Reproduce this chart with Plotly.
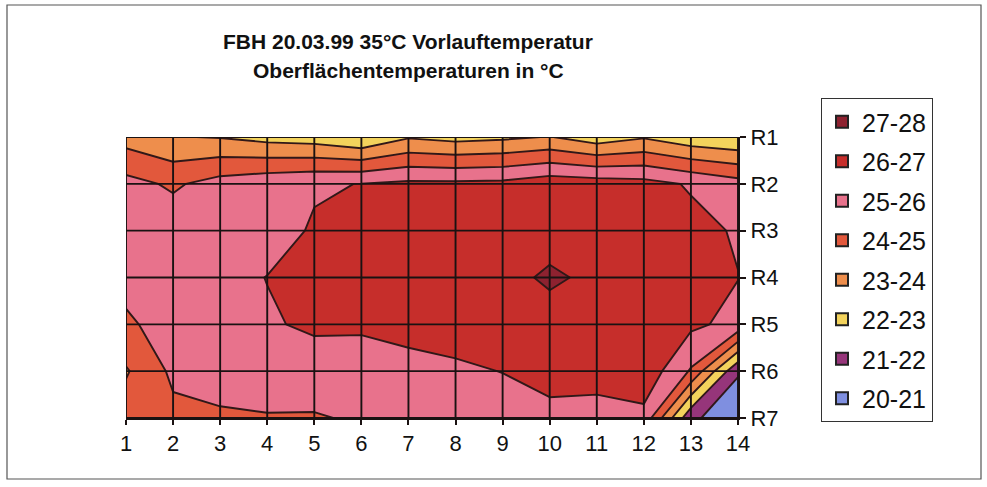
import plotly.graph_objects as go

# ---------------- data ----------------
cols = list(range(1, 15))
rows = ["R1", "R2", "R3", "R4", "R5", "R6", "R7"]

r1 = [23.58, 23.05, 22.95, 22.65, 22.5, 22.05, 22.9, 22.65, 22.8, 23.05, 22.42, 22.9, 22.3, 22.05]
r2 = [25.33, 24.85, 25.4, 25.7, 25.9, 26.02, 26.2, 26.2, 26.25, 26.6, 26.5, 26.35, 25.9, 25.4]
r3 = [25.5, 25.6, 25.65, 25.6, 26.1, 26.4, 26.5, 26.55, 26.6, 26.6, 26.6, 26.5, 26.3, 25.9]
r4 = [25.3, 25.5, 25.7, 26.02, 26.4, 26.55, 26.6, 26.65, 26.7, 27.15, 26.8, 26.6, 26.4, 26.02]
r5 = [24.85, 25.4, 25.6, 25.9, 26.15, 26.15, 26.3, 26.4, 26.5, 26.6, 26.6, 26.5, 26.2, 25.7]
r6 = [23.9, 25.2, 25.3, 25.4, 25.55, 25.5, 25.7, 25.85, 26.02, 26.5, 26.4, 26.7, 24.9, 21.1]
r7 = [24.5, 24.75, 24.9, 24.95, 24.92, 25.12, 25.3, 25.4, 25.55, 25.6, 25.6, 25.7, 21.2, 20.3]
z = [r1, r2, r3, r4, r5, r6, r7]

band_labels = ["20-21", "21-22", "22-23", "23-24", "24-25", "25-26", "26-27", "27-28"]
band_colors = ["#7F8FE0", "#96357A", "#F3D35C", "#EE8E4C", "#E2583C", "#E8728C", "#C62E2B", "#8E2230"]
level_start, level_end, level_size = 20, 28, 1

title1 = "FBH 20.03.99 35°C Vorlauftemperatur"
title2 = "Oberflächentemperaturen in °C"

# ---------------- layout geometry ----------------
W, H = 987, 487
L, R, T, B = 126, 738, 137, 418  # plot area in pixels


def px_x(p):
    return (p - L) / (R - L)


def px_y(p):
    return (B - p) / (B - T)


# stepped colorscale matching plotly's contour fill mapping
nlev = int(round((level_end - level_start) / level_size)) + 1
lo = level_start - level_size / 2
span = nlev * level_size


def s(v):
    return min(max((v - lo) / span, 0.0), 1.0)


colorscale = [[0.0, band_colors[0]]]
for i, c in enumerate(band_colors):
    a = s(level_start + i * level_size)
    b = s(level_start + (i + 1) * level_size)
    if i == 0:
        colorscale.append([b, c])
    elif i == len(band_colors) - 1:
        colorscale.append([a, c])
        colorscale.append([1.0, c])
    else:
        colorscale.append([a, c])
        colorscale.append([b, c])

yvals = list(range(1, len(rows) + 1))

fig = go.Figure()
fig.add_trace(go.Contour(
    x=cols, y=yvals, z=z,
    autocontour=False,
    contours=dict(start=level_start, end=level_end, size=level_size, coloring="fill", showlines=True),
    line=dict(color="#301818", width=1.9, smoothing=0),
    colorscale=colorscale,
    showscale=False, showlegend=False, hoverinfo="skip",
))

# legend entries (top to bottom: highest band first)
for lab, col in reversed(list(zip(band_labels, band_colors))):
    fig.add_trace(go.Scatter(
        x=[None], y=[None], mode="markers", name=lab, legendgroup=lab,
        marker=dict(symbol="square", size=15, color=col, line=dict(color="#222222", width=1.5)),
    ))

# grid lines drawn above the filled contours
shapes = []
for c in cols:
    shapes.append(dict(type="line", xref="x", yref="y", x0=c, x1=c, y0=yvals[0], y1=yvals[-1],
                       line=dict(color="#1a1212", width=1.9), layer="above"))
for yv in yvals:
    shapes.append(dict(type="line", xref="x", yref="y", x0=cols[0], x1=cols[-1], y0=yv, y1=yv,
                       line=dict(color="#1a1212", width=1.9), layer="above"))
# outer chart border
shapes.append(dict(type="rect", xref="paper", yref="paper",
                   x0=px_x(7), x1=px_x(981), y0=px_y(5), y1=px_y(479),
                   line=dict(color="#555555", width=1.2), fillcolor="rgba(0,0,0,0)", layer="below"))

font_family = "Liberation Sans, Arial, sans-serif"

fig.update_layout(
    width=W, height=H,
    margin=dict(l=L, r=W - R, t=T, b=H - B, pad=0),
    paper_bgcolor="white", plot_bgcolor="white",
    font=dict(family=font_family, color="#111111"),
    shapes=shapes,
    showlegend=True,
    legend=dict(
        x=px_x(821), y=px_y(98), xanchor="left", yanchor="top",
        bgcolor="white", bordercolor="#333333", borderwidth=1,
        font=dict(size=25, family=font_family, color="#111111"),
        tracegroupgap=4, itemsizing="constant", itemwidth=30, maxheight=400,
    ),
    annotations=[
        dict(text="<b>" + title1 + "</b>", xref="paper", yref="paper", x=px_x(408), y=px_y(41),
             xanchor="center", yanchor="middle", showarrow=False,
             font=dict(size=21, family=font_family, color="#111111")),
        dict(text="<b>" + title2 + "</b>", xref="paper", yref="paper", x=px_x(408), y=px_y(70),
             xanchor="center", yanchor="middle", showarrow=False,
             font=dict(size=21, family=font_family, color="#111111")),
    ],
    xaxis=dict(
        range=[cols[0], cols[-1]], tickvals=cols, ticktext=[str(c) for c in cols],
        showgrid=False, zeroline=False, showline=True, linecolor="#1a1212", linewidth=2,
        ticks="outside", ticklen=5, tickcolor="#1a1212", tickwidth=1.5,
        tickfont=dict(size=22, family=font_family, color="#111111"), fixedrange=True,
    ),
    yaxis=dict(
        range=[yvals[-1], yvals[0]], tickvals=yvals, ticktext=rows, side="right",
        showgrid=False, zeroline=False, showline=True, linecolor="#1a1212", linewidth=2,
        ticks="outside", ticklen=6, tickcolor="#1a1212", tickwidth=1.5,
        tickfont=dict(size=22, family=font_family, color="#111111"), fixedrange=True,
    ),
)

fig.write_html("out.html", config={"displayModeBar": False},
               post_script="document.body.style.margin='0';")
